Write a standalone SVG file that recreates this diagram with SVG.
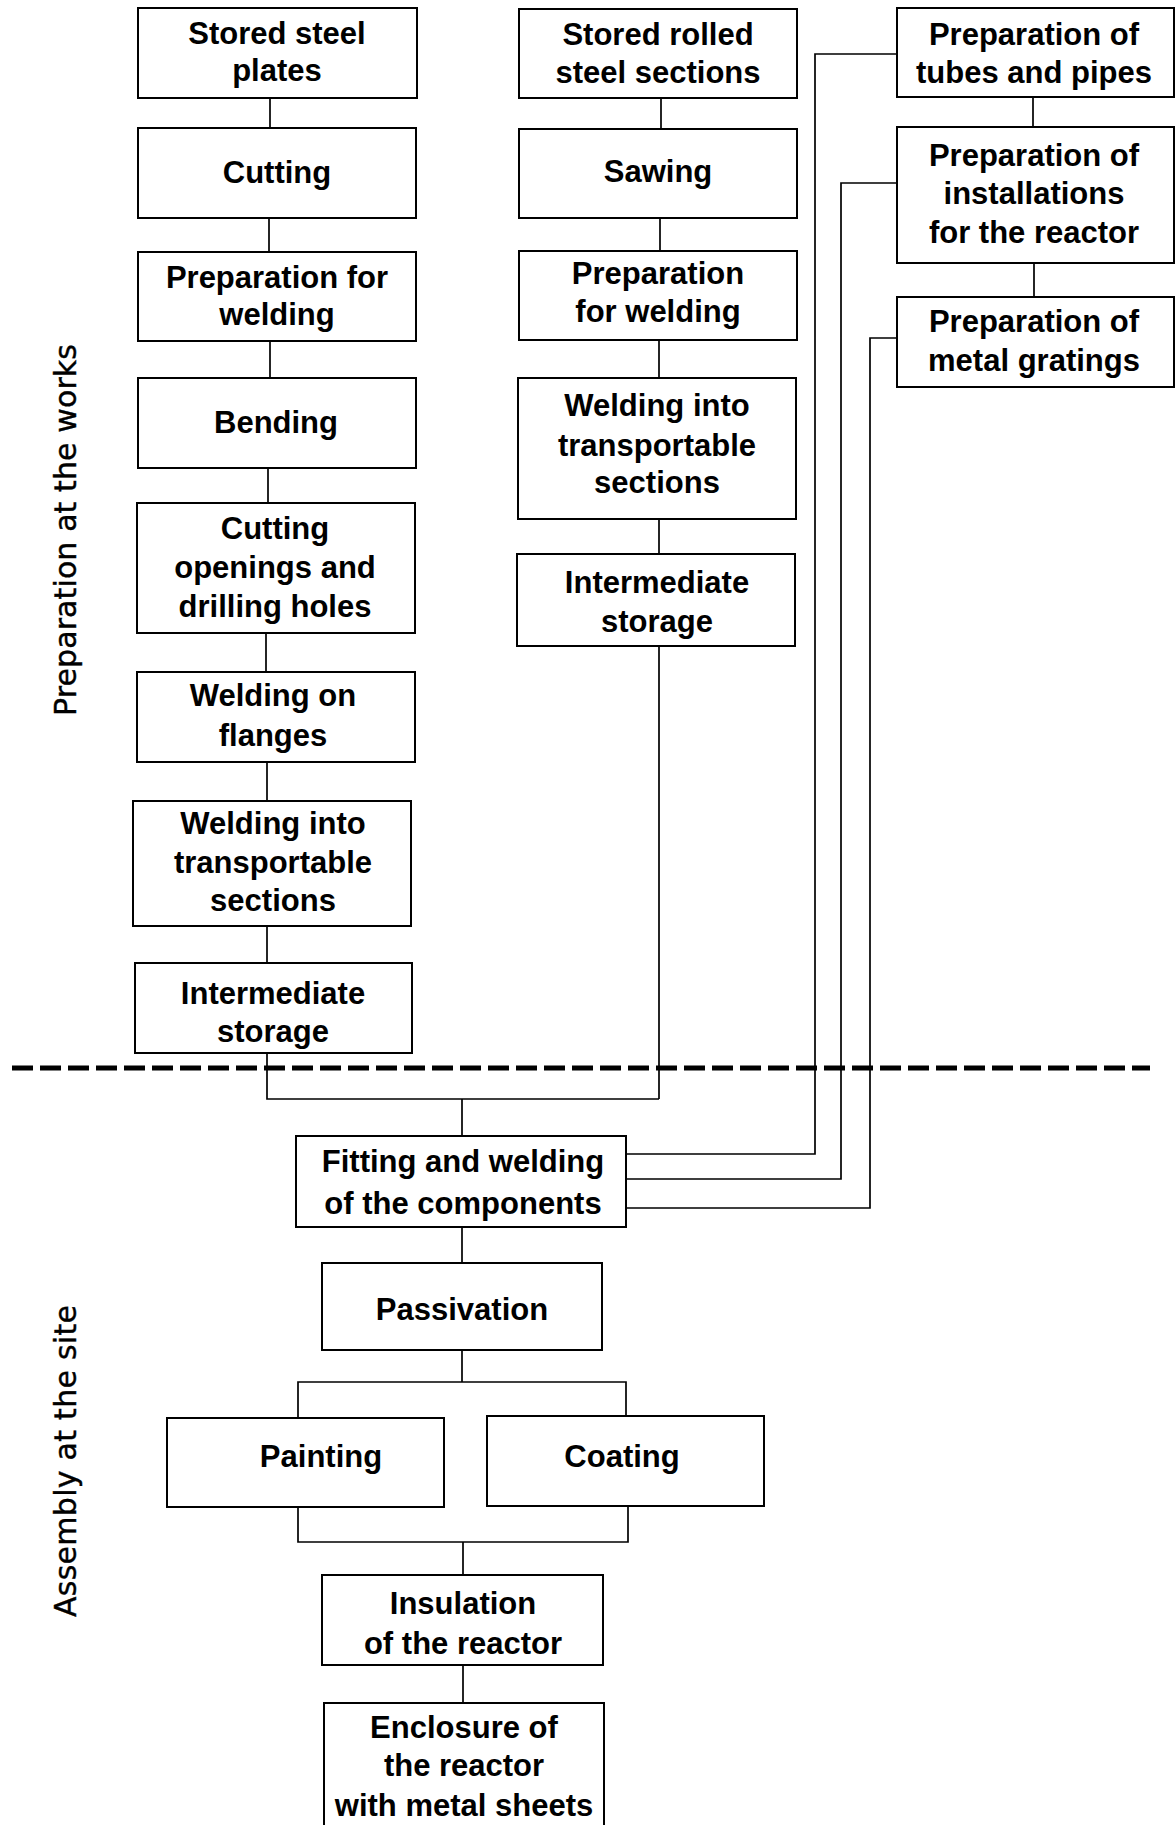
<svg xmlns="http://www.w3.org/2000/svg" width="1176" height="1825" viewBox="0 0 1176 1825">
<style>
.b{fill:#fff;stroke:#000;stroke-width:2}
.t{font-family:"Liberation Sans",Arial,sans-serif;font-weight:bold;font-size:31px;text-anchor:middle;fill:#000}
.s{font-family:"DejaVu Sans",sans-serif;font-size:30px;text-anchor:middle;fill:#000;stroke:#000;stroke-width:0.4}
.c{fill:none;stroke:#000;stroke-width:1.7}
</style>
<rect width="1176" height="1825" fill="#fff"/>
<g id="connectors">
<path class="c" d="M270 98V128M269 218V252M270 341V378M268 468V503M266 633V672M267 762V801M267 926V963M267 1053V1099H659"/>
<path class="c" d="M661 98V129M660 218V251M659 340V378M659 519V554M659 646V1099"/>
<path class="c" d="M1033 97V127M1034 263V297"/>
<path class="c" d="M897 54H815V1154H626M897 183H841V1179H626M897 338H870V1208H626"/>
<path class="c" d="M462 1099V1136M462 1227V1263M462 1350V1382M298 1418V1382H626V1416M298 1507V1542H628V1506M463 1542V1575M463 1665V1703"/>
</g>
<line x1="12" y1="1068" x2="1150" y2="1068" stroke="#000" stroke-width="5" stroke-dasharray="21 7"/>
<text class="s" transform="translate(76,530) rotate(-90)" textLength="372" lengthAdjust="spacing">Preparation at the works</text>
<text class="s" transform="translate(76,1461) rotate(-90)" textLength="312" lengthAdjust="spacing">Assembly at the site</text>
<g id="n1"><rect class="b" x="138" y="8" width="279" height="90"/><text class="t" x="277" y="44">Stored steel</text><text class="t" x="277" y="81">plates</text></g>
<g id="n2"><rect class="b" x="138" y="128" width="278" height="90"/><text class="t" x="277" y="183">Cutting</text></g>
<g id="n3"><rect class="b" x="138" y="252" width="278" height="89"/><text class="t" x="277" y="288">Preparation for</text><text class="t" x="277" y="325">welding</text></g>
<g id="n4"><rect class="b" x="138" y="378" width="278" height="90"/><text class="t" x="276" y="433">Bending</text></g>
<g id="n5"><rect class="b" x="137" y="503" width="278" height="130"/><text class="t" x="275" y="539">Cutting</text><text class="t" x="275" y="578">openings and</text><text class="t" x="275" y="617">drilling holes</text></g>
<g id="n6"><rect class="b" x="137" y="672" width="278" height="90"/><text class="t" x="273" y="706">Welding on</text><text class="t" x="273" y="746">flanges</text></g>
<g id="n7"><rect class="b" x="133" y="801" width="278" height="125"/><text class="t" x="273" y="834">Welding into</text><text class="t" x="273" y="873">transportable</text><text class="t" x="273" y="911">sections</text></g>
<g id="n8"><rect class="b" x="135" y="963" width="277" height="90"/><text class="t" x="273" y="1004">Intermediate</text><text class="t" x="273" y="1042">storage</text></g>
<g id="n9"><rect class="b" x="519" y="9" width="278" height="89"/><text class="t" x="658" y="45">Stored rolled</text><text class="t" x="658" y="83">steel sections</text></g>
<g id="n10"><rect class="b" x="519" y="129" width="278" height="89"/><text class="t" x="658" y="182">Sawing</text></g>
<g id="n11"><rect class="b" x="519" y="251" width="278" height="89"/><text class="t" x="658" y="284">Preparation</text><text class="t" x="658" y="322">for welding</text></g>
<g id="n12"><rect class="b" x="518" y="378" width="278" height="141"/><text class="t" x="657" y="416">Welding into</text><text class="t" x="657" y="456">transportable</text><text class="t" x="657" y="493">sections</text></g>
<g id="n13"><rect class="b" x="517" y="554" width="278" height="92"/><text class="t" x="657" y="593">Intermediate</text><text class="t" x="657" y="632">storage</text></g>
<g id="n14"><rect class="b" x="897" y="8" width="277" height="89"/><text class="t" x="1034" y="45">Preparation of</text><text class="t" x="1034" y="83">tubes and pipes</text></g>
<g id="n15"><rect class="b" x="897" y="127" width="277" height="136"/><text class="t" x="1034" y="166">Preparation of</text><text class="t" x="1034" y="204">installations</text><text class="t" x="1034" y="243">for the reactor</text></g>
<g id="n16"><rect class="b" x="897" y="297" width="277" height="90"/><text class="t" x="1034" y="332">Preparation of</text><text class="t" x="1034" y="371">metal gratings</text></g>
<g id="n17"><rect class="b" x="296" y="1136" width="330" height="91"/><text class="t" x="463" y="1172">Fitting and welding</text><text class="t" x="463" y="1214">of the components</text></g>
<g id="n18"><rect class="b" x="322" y="1263" width="280" height="87"/><text class="t" x="462" y="1320">Passivation</text></g>
<g id="n19"><rect class="b" x="167" y="1418" width="277" height="89"/><text class="t" x="321" y="1467">Painting</text></g>
<g id="n20"><rect class="b" x="487" y="1416" width="277" height="90"/><text class="t" x="622" y="1467">Coating</text></g>
<g id="n21"><rect class="b" x="322" y="1575" width="281" height="90"/><text class="t" x="463" y="1614">Insulation</text><text class="t" x="463" y="1654">of the reactor</text></g>
<g id="n22"><rect class="b" x="324" y="1703" width="280" height="130"/><text class="t" x="464" y="1738">Enclosure of</text><text class="t" x="464" y="1776">the reactor</text><text class="t" x="464" y="1816">with metal sheets</text></g>
</svg>
